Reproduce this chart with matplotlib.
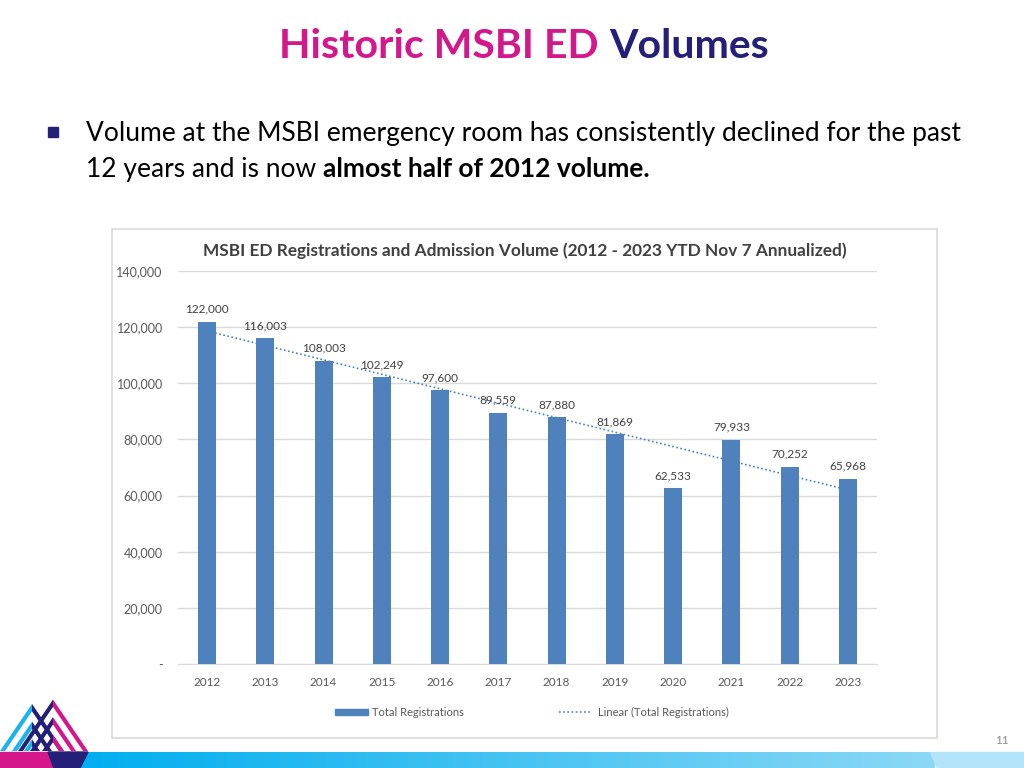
import matplotlib.pyplot as plt
import matplotlib.patches as mpatches
from matplotlib.lines import Line2D
import numpy as np

plt.rcParams['font.family'] = ['Lato', 'DejaVu Sans']

# data
years = ["2012", "2013", "2014", "2015", "2016", "2017",
         "2018", "2019", "2020", "2021", "2022", "2023"]
registrations = [122000, 116003, 108003, 102249, 97600, 89559,
                 87880, 81869, 62533, 79933, 70252, 65968]
y_ticks = [0, 20000, 40000, 60000, 80000, 100000, 120000, 140000]
y_tick_labels = ["-", "20,000", "40,000", "60,000", "80,000",
                 "100,000", "120,000", "140,000"]

bar_color = "#4f81bd"
grey_txt = "#595959"
magenta = "#d4178a"
navy = "#24207a"
cyan = "#1ab4ec"

fig = plt.figure(figsize=(10.24, 7.68), dpi=100)

# background layer in pixel coordinates
bg = fig.add_axes([0, 0, 1, 1])
bg.set_xlim(0, 1024)
bg.set_ylim(768, 0)
bg.axis("off")
fig.canvas.draw()
rend = fig.canvas.get_renderer()

# slide title, centred as a whole
t1 = bg.text(0, 46, "Historic MSBI ED ", color=magenta, fontsize=29.5,
             fontweight="bold", ha="left", va="center")
t2 = bg.text(0, 46, "Volumes", color=navy, fontsize=29.5,
             fontweight="bold", ha="left", va="center")
w1 = t1.get_window_extent(rend).width
w2 = t2.get_window_extent(rend).width
x0 = 524 - (w1 + w2) / 2
t1.set_x(x0)
t2.set_x(x0 + w1)

# bullet
bg.add_patch(mpatches.Rectangle((48, 127), 10, 10, color=navy))
bg.text(86, 134, "Volume at the MSBI emergency room has consistently declined for the past",
        fontsize=19, color="black", va="center")
t = bg.text(86, 169, "12 years and is now ", fontsize=19, color="black", va="center")
wb = t.get_window_extent(rend).width
bg.text(86 + wb, 169, "almost half of 2012 volume.", fontsize=19,
        fontweight="bold", color="black", va="center")

# chart frame
bg.add_patch(mpatches.Rectangle((112, 229), 825, 509, fill=False,
                                edgecolor="#d9d9d9", linewidth=1.2))
bg.text(525, 251, "MSBI ED Registrations and Admission Volume (2012 - 2023 YTD Nov 7 Annualized)",
        fontsize=12.45, fontweight="bold", color="#404040", ha="center", va="center")

# legend
bg.add_patch(mpatches.Rectangle((335, 709), 33, 6, color=bar_color))
bg.text(372, 712, "Total Registrations", fontsize=8, color=grey_txt, va="center")
bg.add_line(Line2D([559, 592], [712, 712], color=bar_color, linestyle=(0, (1, 1.5)), linewidth=1.2))
bg.text(598, 712, "Linear (Total Registrations)", fontsize=8, color=grey_txt, va="center")

bg.text(1002, 740, "11", fontsize=8.5, color="#8c8c8c", ha="center", va="center")

# bottom bar with gradient
grad = np.linspace(0, 1, 512)
c0 = np.array([0x00, 0xae, 0xef]) / 255
c1 = np.array([0x8c, 0xd8, 0xf6]) / 255
img = (c0[None, :] * (1 - grad[:, None]) + c1[None, :] * grad[:, None])[None, :, :]
bg.imshow(img, extent=[80, 935, 768, 752], aspect="auto", zorder=1)
bg.add_patch(mpatches.Polygon([[930, 752], [1024, 752], [1024, 768], [937, 768]],
                              color="#b3e4f9", zorder=1))
bg.add_patch(mpatches.Rectangle((0, 752), 52, 16, color=magenta, zorder=2))
bg.add_patch(mpatches.Polygon([[48, 752], [88, 752], [80, 768], [54, 768]],
                              color=navy, zorder=2))


# logo: two sets of nested chevrons
def chevron(b, c, w, col_left, col_right, z, base=751, s=0.68):
    mid = (b + c) / 2
    top_out = base - (c - b) / (2 * s)
    top_in = base - (c - b - 2 * w) / (2 * s)
    bg.add_patch(mpatches.Polygon([[b, base], [b + w, base], [mid, top_in], [mid, top_out]],
                                  color=col_left, zorder=z, linewidth=0))
    bg.add_patch(mpatches.Polygon([[c, base], [c - w, base], [mid, top_in], [mid, top_out]],
                                  color=col_right, zorder=z, linewidth=0))


for b, c in [(0, 64), (12, 52), (24, 40)]:
    chevron(b, c, 5, cyan, navy, 3)
for b, c in [(18, 88), (30, 76), (42, 64)]:
    chevron(b, c, 5, navy, magenta, 4)

# chart axes
ax = fig.add_axes([178 / 1024, 1 - 664 / 768, 699 / 1024, 393 / 768])
ax.patch.set_alpha(0)
x = np.arange(len(years))
ax.bar(x, registrations, width=0.31, color=bar_color, zorder=3)
coef = np.polyfit(x, registrations, 1)
ax.plot(x, np.polyval(coef, x), color=bar_color, linestyle=(0, (1, 1.5)),
        linewidth=1.2, zorder=4)
for xi, v in zip(x, registrations):
    ax.text(xi, v + 2500, f"{v:,}", ha="center", va="bottom", fontsize=8.5,
            color="#404040", zorder=5)

ax.set_xlim(-0.5, len(years) - 0.5)
ax.set_ylim(0, 140000)
ax.set_yticks(y_ticks)
ax.set_yticklabels(y_tick_labels)
ax.set_xticks(x)
ax.set_xticklabels(years)
ax.tick_params(axis="both", length=0, labelsize=8.5, labelcolor=grey_txt)
ax.tick_params(axis="y", labelsize=9, pad=11)
ax.tick_params(axis="x", pad=9)
ax.grid(axis="y", color="#d9d9d9", linewidth=1, zorder=0)
for sp in ["top", "right", "left"]:
    ax.spines[sp].set_visible(False)
ax.spines["bottom"].set_color("#d9d9d9")

fig.savefig("out.png", dpi=100)
